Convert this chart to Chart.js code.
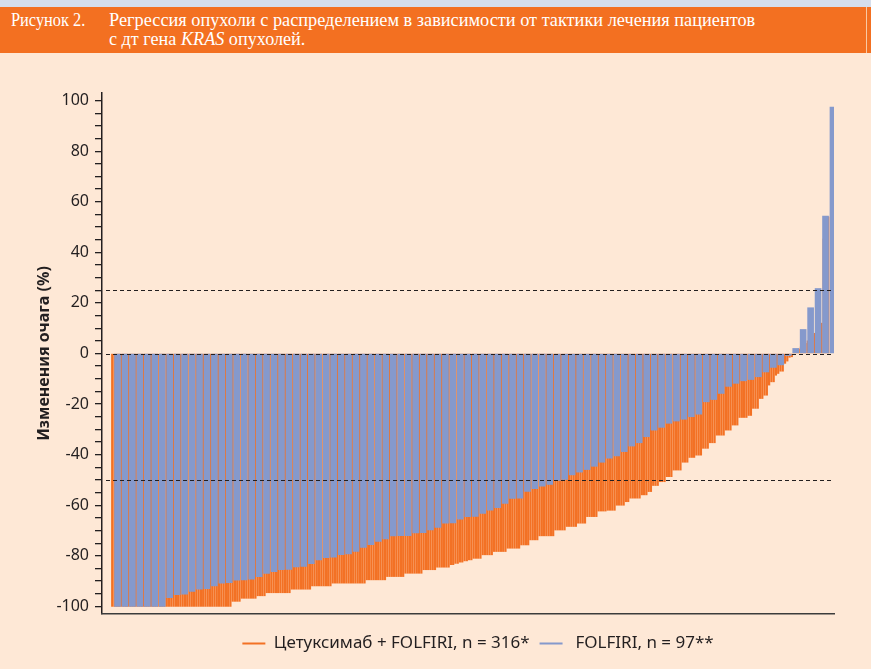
<!DOCTYPE html>
<html>
<head>
<meta charset="utf-8">
<script src="https://cdn.jsdelivr.net/npm/chart.js@4.4.1/dist/chart.umd.min.js"></script>
<style>
  html, body { margin: 0; padding: 0; }
  body { width: 871px; height: 669px; position: relative; overflow: hidden; background: #FEE8D6; }
  #topstrip { position: absolute; left: 0; top: 0; width: 871px; height: 7px; background: #D5DEEC; }
  #header { position: absolute; left: 0; top: 7px; width: 871px; height: 46px; background: #F37021; }
  #header .edge { position: absolute; left: 866px; top: 0; width: 1px; height: 46px; background: #F9C9A4; }
  .hd { position: absolute; color: #fff; font-family: "Liberation Serif", serif; font-size: 19px; white-space: nowrap; transform-origin: 0 0; }
  #chartbox { position: absolute; left: 0; top: 0; width: 871px; height: 669px; }
</style>
</head>
<body>
<div id="topstrip"></div>
<div id="header">
  <span class="hd" id="h0" style="left:11px; top:2px;">Рисунок 2.</span>
  <span class="hd" id="h1" style="left:109px; top:2px;">Регрессия опухоли с распределением в зависимости от тактики лечения пациентов</span>
  <span class="hd" id="h2" style="left:109px; top:21px;">с дт гена <i>KRAS</i> опухолей.</span>
  <div class="edge"></div>
</div>
<div id="chartbox"><canvas id="chart"></canvas></div>
<script>
// Per-patient change in tumour size (%), sorted from best response to progression
const orangeValues = [
  -100, -100, -100, -100, -100, -100, -100, -100, -100, -100,
  -100, -100, -100, -100, -100, -100, -100, -100, -100, -100,
  -100, -100, -100, -100, -100, -100, -100, -100, -100, -100,
  -100, -100, -100, -100, -100, -100, -100, -100, -100, -100,
  -100, -100, -100, -100, -100, -100, -100, -100, -100, -100,
  -100, -100, -100, -98, -98, -98, -98, -96.8, -96.8, -96.8,
  -96.8, -96.8, -96.8, -96.8, -95.8, -95.8, -95.8, -95.8, -94.6, -94.6,
  -94.6, -94.6, -94.6, -94.6, -94.6, -94.6, -94.6, -94.6, -94.6, -93.2,
  -93.2, -93.2, -93.2, -93.2, -93.2, -93.2, -93.2, -93.2, -91.9, -91.9,
  -91.9, -91.9, -91.9, -91.9, -91.9, -91.9, -91.9, -90.8, -90.8, -90.8,
  -90.8, -90.8, -90.8, -90.8, -90.8, -90.8, -90.8, -90.8, -90.8, -90.8,
  -90.8, -90.8, -89.5, -89.5, -89.5, -89.5, -89.5, -89.5, -89.5, -89.5,
  -89.5, -88.2, -88.2, -88.2, -88.2, -88.2, -88.2, -88.2, -88.2, -86.9,
  -86.9, -86.9, -86.9, -86.9, -86.9, -86.9, -86.9, -85.5, -85.5, -85.5,
  -85.5, -85.5, -85.5, -84.5, -84.5, -84.5, -84.5, -84.5, -84.5, -83.5,
  -83.5, -83, -83, -82.5, -82.5, -82, -82, -81.6, -81.6, -81,
  -81, -81, -81, -79.6, -79.6, -79.6, -79.6, -79.6, -78.3, -78.3,
  -78.3, -78.3, -78.3, -78.3, -77, -77, -77, -77, -77, -77,
  -75.7, -75.7, -75.7, -75.7, -73.7, -73.7, -73.7, -73.7, -72.1, -72.1,
  -72.1, -72.1, -72.1, -72.1, -72.1, -69.8, -69.8, -69.8, -69.8, -69.8,
  -68.4, -68.4, -68.4, -68.4, -68.4, -67.1, -67.1, -67.1, -67.1, -64.5,
  -64.5, -64.5, -64.5, -64.5, -62.3, -62.3, -62.3, -62.3, -62, -62,
  -62, -62, -60, -60, -60, -60, -58.6, -58.6, -57.2, -57.2,
  -57.2, -57.2, -57.2, -55.9, -55.9, -55.9, -54.6, -54.6, -52.2, -52.2,
  -52.2, -50.7, -50.7, -50.7, -48.7, -48.7, -48.7, -46.1, -46.1, -46.1,
  -46.1, -43, -43, -43, -41.1, -41.1, -41.1, -40.2, -40.2, -40.2,
  -37.5, -37.5, -37.5, -35.3, -35.3, -35.3, -32.3, -32.3, -32.3, -32.3,
  -30.3, -30.3, -30.3, -28.3, -28.3, -28.3, -25.3, -25.3, -25.3, -25.3,
  -24.5, -24.5, -21.7, -21.7, -21.7, -17.8, -17.8, -16.5, -16.5, -12.5,
  -11.2, -11.2, -8.6, -7.9, -7, -7, -3.9, -3, -1.5, -1.3,
  0.5, 1.3, 1.8, 2.6, 3, 4, 5, 6, 7, 8,
  9, 10, 12, 45.3, 47, 54
];
const blueValues = [
  -100, -100, -100, -100, -100, -100, -100, -96.5, -95.4, -95.2,
  -94.1, -93.2, -93, -91.9, -90.8, -90.6, -89.6, -89.5, -89.2, -88.2,
  -87, -86.3, -85.5, -85.4, -84.4, -84.2, -83.1, -81.6, -80.7, -80.5,
  -79.5, -79.2, -78.3, -76.7, -75.6, -74.3, -73.3, -72.1, -72, -72,
  -70.9, -70.8, -69.8, -68.8, -67.1, -67, -65.5, -64.5, -64.4, -63.2,
  -61.9, -61, -59.3, -57.3, -57.2, -54.5, -53.4, -52.5, -51.8, -50.2,
  -49.8, -48, -46.9, -45.9, -44.6, -43, -41.4, -40.5, -38.8, -36.6,
  -35.3, -32.9, -30.3, -29.2, -27.6, -26.7, -26, -25, -24, -19.1,
  -18.2, -15.8, -13, -11.8, -10.8, -10.3, -9.2, -7.3, -5.5, -4.5,
  -0.8, 2, 9.5, 18.1, 25.7, 54.3, 97.4
];
const seriesNames = ['Цетуксимаб + FOLFIRI, n = 316*', ' FOLFIRI, n = 97**'];
const yTicks = [-100, -80, -60, -40, -20, 0, 20, 40, 60, 80, 100];
const referenceLevels = [25, 0, -50];

const ORANGE = '#F37124';
const BLUE = '#8599CC';
const INK = '#231F20';

// fit the serif header lines to their set widths
[['h1', 646], ['h2', 196], ['h0', 74]].forEach(([id, w]) => {
  const el = document.getElementById(id);
  el.style.transform = 'scaleX(' + (w / el.offsetWidth) + ')';
});

const refLinePlugin = {
  id: 'refLines',
  afterDatasetsDraw(chart) {
    const { ctx, chartArea, scales: { y } } = chart;
    ctx.save();
    ctx.setLineDash([4, 3]);
    ctx.strokeStyle = INK;
    ctx.lineWidth = 1.2;
    referenceLevels.forEach(v => {
      const py = Math.round(y.getPixelForValue(v)) + 0.5;
      ctx.beginPath();
      ctx.moveTo(chartArea.left + 4, py);
      ctx.lineTo(chartArea.right, py);
      ctx.stroke();
    });
    ctx.restore();
  }
};

const legendShiftPlugin = {
  id: 'legendShift',
  afterLayout(chart, args, opts) {
    const lg = chart.legend;
    if (lg) { lg.left += opts.dx; lg.right += opts.dx; }
  }
};

new Chart(document.getElementById('chart'), {
  type: 'bar',
  data: {
    datasets: [
      {
        label: seriesNames[0],
        data: orangeValues.map((v, i) => ({ x: i + 1, y: v })),
        xAxisID: 'xo',
        backgroundColor: ORANGE,
        borderWidth: 0,
        barThickness: 1.55,
        order: 1
      },
      {
        label: seriesNames[1],
        data: blueValues.map((v, i) => ({ x: i + 1, y: v })),
        xAxisID: 'xb',
        backgroundColor: BLUE,
        borderWidth: 0,
        barThickness: 6,
        order: 0
      }
    ]
  },
  options: {
    responsive: true,
    maintainAspectRatio: false,
    animation: false,
    devicePixelRatio: 1,
    layout: { padding: { left: 35, top: 93, right: 37, bottom: 7 } },
    plugins: {
      tooltip: { enabled: false },
      legend: {
        position: 'bottom',
        fullSize: false,
        reverse: true,
        labels: {
          usePointStyle: true,
          pointStyle: 'line',
          pointStyleWidth: 23,
          padding: 10,
          color: INK,
          font: { family: 'Noto Sans', size: 17 },
          generateLabels(chart) {
            const items = Chart.defaults.plugins.legend.labels.generateLabels(chart);
            items.forEach(it => {
              const ds = chart.data.datasets[it.datasetIndex];
              it.strokeStyle = ds.backgroundColor;
              it.fillStyle = ds.backgroundColor;
              it.lineWidth = 2;
            });
            return items;
          }
        }
      },
      legendShift: { dx: 10 }
    },
    scales: {
      y: {
        min: -103,
        max: 103,
        afterFit(s) { s.width = 67; },
        afterBuildTicks(s) {
          const t = [];
          for (let v = yTicks[0]; v <= yTicks[yTicks.length - 1]; v += 5) t.push({ value: v });
          s.ticks = t;
        },
        ticks: {
          autoSkip: false,
          padding: 6,
          color: INK,
          font: { family: 'Noto Sans', size: 16 },
          callback: v => (yTicks.includes(v) ? String(v) : '')
        },
        grid: { drawOnChartArea: false, drawTicks: true, tickLength: 7, color: INK, lineWidth: 1.3 },
        border: { display: true, color: INK, width: 1.5 },
        title: {
          display: true,
          text: 'Изменения очага (%)',
          color: INK,
          font: { family: 'Noto Sans', size: 16, weight: 'bold' },
          padding: { top: 0, bottom: 0 }
        }
      },
      xo: {
        type: 'linear',
        position: 'bottom',
        offset: false,
        bounds: 'data',
        min: -3.84,
        max: 318.2,
        afterFit(s) { s.height = 11; },
        ticks: { display: false },
        grid: { display: false, offset: false },
        border: { display: true, color: '#3C3C3C', width: 1.5 }
      },
      xb: {
        type: 'linear',
        position: 'bottom',
        offset: false,
        bounds: 'data',
        min: -0.68,
        max: 97.54,
        grid: { offset: false },
        display: false
      }
    }
  },
  plugins: [refLinePlugin, legendShiftPlugin]
});
</script>
</body>
</html>
